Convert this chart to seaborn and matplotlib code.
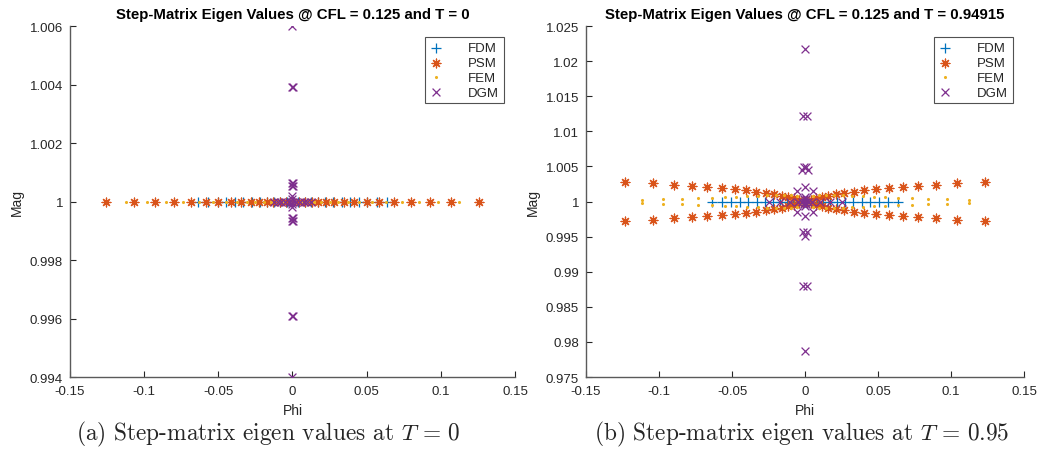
import numpy as np
import pandas as pd
import matplotlib
matplotlib.use('Agg')
import matplotlib.pyplot as plt
import seaborn as sns
from matplotlib.ticker import FuncFormatter

sns.set_theme(style='white')
plt.rcParams['font.family'] = ['Liberation Sans', 'DejaVu Sans']
plt.rcParams['axes.unicode_minus'] = False
plt.rcParams['mathtext.fontset'] = 'cm'

# ---- data ----
# FDM eigenvalues (|lambda| = 1 in both snapshots)
fdm_phi = [-0.0638, -0.0570, -0.0505, -0.0445, -0.0388, -0.0332, -0.0275, -0.0220,
           -0.0170, -0.0125, -0.0082, -0.0040, 0.0, 0.0040, 0.0082, 0.0125, 0.0170,
           0.0220, 0.0275, 0.0332, 0.0388, 0.0445, 0.0505, 0.0570, 0.0638]

# T = 0
t0_psm_phi = [-0.1260, -0.1070, -0.0925, -0.0800, -0.0686, -0.0585, -0.0500, -0.0415,
              -0.0350, -0.0280, -0.0224, -0.0174, -0.0130, -0.0084, -0.0044, 0.0,
              0.0044, 0.0084, 0.0130, 0.0174, 0.0224, 0.0280, 0.0350, 0.0415, 0.0500,
              0.0585, 0.0686, 0.0800, 0.0925, 0.1070, 0.1260]
t0_fem_phi = [-0.1125, -0.0980, -0.0850, -0.0740, -0.0630, -0.0535, -0.0450, -0.0375,
              -0.0310, -0.0250, -0.0195, -0.0145, -0.0100, -0.0060, -0.0020, 0.0020,
              0.0060, 0.0100, 0.0145, 0.0195, 0.0250, 0.0310, 0.0375, 0.0450, 0.0535,
              0.0630, 0.0740, 0.0850, 0.0980, 0.1125]
t0_dgm_phi = [0.0, -0.0004, 0.0004, -0.0003, 0.0003, -0.0003, 0.0003, 0.0, 0.0,
              -0.0125, -0.0100, -0.0075, -0.0050, -0.0025, 0.0, 0.0025, 0.0050, 0.0075,
              0.0100, 0.0125,
              0.0, 0.0, -0.0003, 0.0003, -0.0003, 0.0003, -0.0004, 0.0004, 0.0]
t0_dgm_mag = [1.0060, 1.0039, 1.0039, 1.00062, 1.00062, 1.00052, 1.00052, 1.0002, 1.0001,
              1.0, 1.0, 1.0, 1.0, 1.0, 1.0, 1.0, 1.0, 1.0, 1.0, 1.0,
              0.9999, 0.9998, 0.99945, 0.99945, 0.99935, 0.99935, 0.9961, 0.9961, 0.9940]

# T = 0.94915
t1_psm_phi = [-0.1233, -0.1044, -0.0898, -0.0773, -0.0668, -0.0572, -0.0483, -0.0407,
              -0.0333, -0.0268, -0.0212, -0.0160, -0.0114, -0.0075, -0.0040, -0.0015,
              0.0015, 0.0040, 0.0075, 0.0114, 0.0160, 0.0212, 0.0268, 0.0333, 0.0407,
              0.0483, 0.0572, 0.0668, 0.0773, 0.0898, 0.1044, 0.1233]
t1_psm_mag_up = [1.00273, 1.00262, 1.00242, 1.00224, 1.00208, 1.00192, 1.00175, 1.00158,
                 1.00140, 1.00122, 1.00103, 1.00084, 1.00064, 1.00044, 1.00025, 1.00010,
                 1.00010, 1.00025, 1.00044, 1.00064, 1.00084, 1.00103, 1.00122, 1.00140,
                 1.00158, 1.00175, 1.00192, 1.00208, 1.00224, 1.00242, 1.00262, 1.00273]
t1_psm_mag_dn = [0.99720, 0.99740, 0.99760, 0.99776, 0.99792, 0.99808, 0.99824, 0.99840,
                 0.99858, 0.99876, 0.99895, 0.99914, 0.99934, 0.99954, 0.99974, 0.99990,
                 0.99990, 0.99974, 0.99954, 0.99934, 0.99914, 0.99895, 0.99876, 0.99858,
                 0.99840, 0.99824, 0.99808, 0.99792, 0.99776, 0.99760, 0.99740, 0.99720]
t1_fem_phi = [-0.1120, -0.0970, -0.0840, -0.0730, -0.0640, -0.0550, -0.0470, -0.0395,
              -0.0325, -0.0260, -0.0200, -0.0145, -0.0095, -0.0055, -0.0020, 0.0020,
              0.0055, 0.0095, 0.0145, 0.0200, 0.0260, 0.0325, 0.0395, 0.0470, 0.0550,
              0.0640, 0.0730, 0.0840, 0.0970, 0.1120]
t1_fem_mag_up = [1.00018, 1.00032, 1.00040, 1.00048, 1.00054, 1.00060, 1.00066, 1.00072,
                 1.00080, 1.00088, 1.00094, 1.00096, 1.00090, 1.00075, 1.00040, 1.00040,
                 1.00075, 1.00090, 1.00096, 1.00094, 1.00088, 1.00080, 1.00072, 1.00066,
                 1.00060, 1.00054, 1.00048, 1.00040, 1.00032, 1.00018]
t1_fem_mag_dn = [0.99982, 0.99968, 0.99960, 0.99952, 0.99946, 0.99940, 0.99934, 0.99928,
                 0.99920, 0.99912, 0.99906, 0.99904, 0.99910, 0.99925, 0.99960, 0.99960,
                 0.99925, 0.99910, 0.99904, 0.99906, 0.99912, 0.99920, 0.99928, 0.99934,
                 0.99940, 0.99946, 0.99952, 0.99960, 0.99968, 0.99982]
t1_dgm_phi = [0.0, -0.0015, 0.0015, -0.0007, 0.0007, -0.0018, 0.0018,
              -0.0055, 0.0, 0.0055,
              -0.0250, -0.0170, -0.0100, -0.0050, 0.0050, 0.0100, 0.0170, 0.0250,
              -0.0020, 0.0, 0.0020, -0.0010, 0.0010, -0.0010, 0.0010, 0.0, 0.0,
              -0.0055, 0.0, 0.0055,
              -0.0015, 0.0015, 0.0, -0.0015, 0.0015, 0.0]
t1_dgm_mag = [1.0217, 1.0122, 1.0122, 1.0049, 1.0049, 1.0045, 1.0045,
              1.0015, 1.0020, 1.0015,
              1.0, 1.0, 1.0, 1.0, 1.0, 1.0, 1.0, 1.0,
              1.0, 1.0, 1.0, 1.0004, 1.0004, 0.9996, 0.9996, 1.0007, 0.9993,
              0.9985, 0.9980, 0.9985,
              0.9956, 0.9956, 0.9951, 0.9879, 0.9879, 0.9787]

# axis ticks
x_ticks = [-0.15, -0.1, -0.05, 0, 0.05, 0.1, 0.15]
t0_y_ticks = [0.994, 0.996, 0.998, 1.0, 1.002, 1.004, 1.006]
t1_y_ticks = [0.975, 0.98, 0.985, 0.99, 0.995, 1.0, 1.005, 1.01, 1.015, 1.02, 1.025]

methods = ['FDM', 'PSM', 'FEM', 'DGM']
colors = {'FDM': '#0072BD', 'PSM': '#D95319', 'FEM': '#EDB120', 'DGM': '#7E2F8E'}
markers = {'FDM': '+', 'PSM': (8, 2, 0), 'FEM': 'o', 'DGM': 'x'}
sizes = {'FDM': 42, 'PSM': 40, 'FEM': 5, 'DGM': 32}

TEXT = '#262626'


def build_frame(pairs):
    """pairs: dict method -> (phi list, mag list)"""
    rows = []
    for m, (phi, mag) in pairs.items():
        rows.append(pd.DataFrame({'method': m, 'phi': phi, 'mag': mag}))
    return pd.concat(rows, ignore_index=True)


def draw_panel(ax, df, title, y_ticks):
    for m in methods:
        sub = df[df['method'] == m]
        kw = dict(linewidth=0.9) if m != 'FEM' else dict(linewidth=0)
        sns.scatterplot(data=sub, x='phi', y='mag', ax=ax, marker=markers[m],
                        color=colors[m], s=sizes[m], label=m, zorder=3, **kw)
    ax.set_xlim(-0.15, 0.15)
    ax.set_ylim(y_ticks[0], y_ticks[-1])
    ax.set_xticks(x_ticks)
    ax.set_yticks(y_ticks)
    fmt = FuncFormatter(lambda v, p: f'{round(v, 6):g}')
    ax.xaxis.set_major_formatter(fmt)
    ax.yaxis.set_major_formatter(fmt)
    ax.tick_params(direction='in', length=4, width=0.8, colors=TEXT,
                   labelsize=9.5, left=True, bottom=True)
    ax.tick_params(axis='x', pad=6)
    ax.tick_params(axis='y', pad=5)
    for side in ['top', 'right']:
        ax.spines[side].set_visible(False)
    for side in ['left', 'bottom']:
        ax.spines[side].set_color('#5a5a5a')
        ax.spines[side].set_linewidth(1.0)
    ax.set_xlabel('Phi', fontsize=10, color=TEXT, labelpad=4)
    ax.set_ylabel('Mag', fontsize=10, color=TEXT, labelpad=4)
    ax.set_title(title, fontsize=10.8, fontweight='bold', color='black', pad=6)
    leg = ax.legend(loc='upper right', fontsize=9.5, frameon=True, fancybox=False,
                    edgecolor='#262626', borderaxespad=0.85, handletextpad=1.9,
                    labelspacing=0.2, borderpad=0.35, handlelength=1.0)
    leg.get_frame().set_linewidth(0.8)
    for t in leg.get_texts():
        t.set_color(TEXT)


def main():
    fig = plt.figure(figsize=(10.51, 4.56), dpi=100)
    ax1 = fig.add_axes([0.0666, 0.171, 0.4234, 0.7697])
    ax2 = fig.add_axes([0.5576, 0.171, 0.4167, 0.7697])

    df0 = build_frame({
        'FDM': (fdm_phi, [1.0] * len(fdm_phi)),
        'PSM': (t0_psm_phi, [1.0] * len(t0_psm_phi)),
        'FEM': (t0_fem_phi, [1.0] * len(t0_fem_phi)),
        'DGM': (t0_dgm_phi, t0_dgm_mag),
    })
    df1 = build_frame({
        'FDM': (fdm_phi, [1.0] * len(fdm_phi)),
        'PSM': (t1_psm_phi + t1_psm_phi, t1_psm_mag_up + t1_psm_mag_dn),
        'FEM': (t1_fem_phi + t1_fem_phi, t1_fem_mag_up + t1_fem_mag_dn),
        'DGM': (t1_dgm_phi, t1_dgm_mag),
    })

    draw_panel(ax1, df0, 'Step-Matrix Eigen Values @ CFL = 0.125 and T = 0', t0_y_ticks)
    draw_panel(ax2, df1, 'Step-Matrix Eigen Values @ CFL = 0.125 and T = 0.94915', t1_y_ticks)

    fig.text(0.2555, 0.048, r'(a) Step-matrix eigen values at $T\,=\,0$',
             ha='center', va='center', fontsize=16.8, family='cmr10')
    fig.text(0.763, 0.048, r'(b) Step-matrix eigen values at $T\,=\,0.95$',
             ha='center', va='center', fontsize=16.8, family='cmr10')

    fig.savefig('out.png', dpi=100)
    plt.close(fig)


if __name__ == '__main__':
    main()
